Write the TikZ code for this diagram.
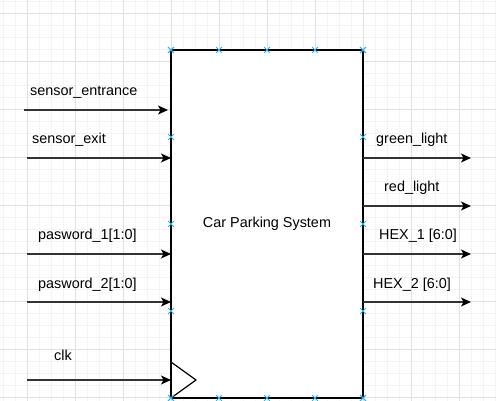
\documentclass[tikz,border=0pt]{standalone}
\usepackage{fontspec}
\setmainfont{Liberation Sans}
\usepackage{tikz}
\usetikzlibrary{
    arrows.meta,
    shapes.misc,
    calc
}
\definecolor{gridmajor}{HTML}{E0E0E0}
\definecolor{gridminor}{HTML}{F4F4F4}
\definecolor{connblue}{HTML}{29B6F2}
\tikzset{
    block/.style = {
        rectangle,
        draw=black,
        fill=white,
        line width=1.2pt,
        minimum width=192pt,
        minimum height=348pt,
        inner sep=0pt,
        outer sep=0pt,
        font=\fontsize{14.4}{16}\selectfont
    },
    lbl/.style = {
        anchor=base west,
        inner sep=0pt,
        font=\fontsize{14.4}{16}\selectfont
    },
    arrow/.style = {
        -{Stealth[length=10pt,width=9pt,inset=2.5pt,color=black]},
        line width=1.3pt,
        draw=black!80
    },
    conn/.style = {
        cross out,
        draw=connblue,
        line width=0.9pt,
        minimum size=5pt,
        inner sep=0pt
    },
    majorgrid/.style = {
        draw=gridmajor,
        line width=0.8pt
    },
    minorgrid/.style = {
        draw=gridminor,
        line width=0.8pt
    }
}

\begin{document}
\begin{tikzpicture}[x=1pt,y=-1pt]
\useasboundingbox (0,0) rectangle (496,401);
% background grid
\foreach \x in {3,15,...,495} \draw[minorgrid] (\x,0) -- (\x,401);
\foreach \y in {1,13,...,397} \draw[minorgrid] (0,\y) -- (496,\y);
\foreach \x in {27,75,...,459} \draw[majorgrid] (\x,0) -- (\x,401);
\foreach \y in {13,61,...,397} \draw[majorgrid] (0,\y) -- (496,\y);

\node[block] (sys) at (267,224) {Car Parking System};

% clock marker
\draw[line width=1.2pt] ($(sys.south west)+(0,-36)$) -- ($(sys.south west)+(25,-18)$) -- (sys.south west);

% inputs
\coordinate (entr) at (24,110);
\coordinate (exit) at (27,158);
\coordinate (pw1) at (27,254);
\coordinate (pw2) at (27,302);
\coordinate (clk) at (27,380);
\draw[arrow, shorten >=3pt] (entr) -- (entr -| sys.west);
\draw[arrow] (exit) -- (exit -| sys.west);
\draw[arrow] (pw1) -- (pw1 -| sys.west);
\draw[arrow] (pw2) -- (pw2 -| sys.west);
\draw[arrow] (clk) -- (clk -| sys.west);

\node[lbl] (entrlabel) at (30,96) {sensor\_entrance};
\node[lbl] (exitlabel) at (32,144) {sensor\_exit};
\node[lbl] (pw1label) at (38,240) {pasword\_1[1:0]};
\node[lbl] (pw2label) at (38,288) {pasword\_2[1:0]};
\node[lbl] (clklabel) at (54,360) {clk};

% outputs
\coordinate (green) at (471,158);
\coordinate (red) at (471,206);
\coordinate (hex1) at (471,254);
\coordinate (hex2) at (471,302);
\draw[arrow] (green -| sys.east) -- (green);
\draw[arrow] (red -| sys.east) -- (red);
\draw[arrow] (hex1 -| sys.east) -- (hex1);
\draw[arrow] (hex2 -| sys.east) -- (hex2);

\node[lbl] (greenlabel) at (376,144) {green\_light};
\node[lbl] (redlabel) at (384,192) {red\_light};
\node[lbl] (hex1label) at (379,240) {HEX\_1 [6:0]};
\node[lbl] (hex2label) at (373,288) {HEX\_2 [6:0]};

% connection points
\foreach \f in {0,0.25,0.5,0.75,1} {
    \node[conn] at ($(sys.north west)!\f!(sys.north east)$) {};
    \node[conn] at ($(sys.south west)!\f!(sys.south east)$) {};
    \node[conn] at ($(sys.north west)!\f!(sys.south west)$) {};
    \node[conn] at ($(sys.north east)!\f!(sys.south east)$) {};
}
\end{tikzpicture}
\end{document}
